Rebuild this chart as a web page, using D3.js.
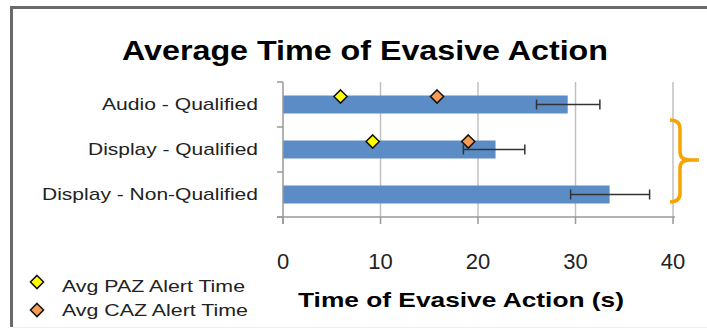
<!DOCTYPE html>
<meta charset="utf-8">
<script src="https://d3js.org/d3.v7.min.js"></script>
<style>
  body { margin: 0; background: #fff; }
  svg { font-family: Arial, "Liberation Sans", sans-serif; }
</style>
<div id="my_dataviz"></div>
<script>

// data
var categories = ["Audio - Qualified", "Display - Qualified", "Display - Non-Qualified"];
var avgEvasive = [29.2, 21.8, 33.5];
var errLow = [26.0, 18.5, 29.5];
var errHigh = [32.5, 24.8, 37.6];
var pazTime = [5.9, 9.2, null];
var cazTime = [15.8, 19.0, null];
var xTicks = [0, 10, 20, 30, 40];

var W = 707, H = 328;
var svg = d3.select("#my_dataviz")
  .append("svg")
    .attr("width", W)
    .attr("height", H);

// the original image is slightly stretched, so squeeze/stretch text to the widths seen
function fit(sel, w) {
  sel.attr("textLength", w).attr("lengthAdjust", "spacingAndGlyphs");
}

// frame
svg.append("path")
  .attr("d", "M11.5,327 L11.5,7.5 L707,7.5")
  .attr("fill", "none")
  .attr("stroke", "#6a6a6a")
  .attr("stroke-width", 3);
svg.append("line")
  .attr("x1", 12).attr("x2", 707).attr("y1", 327.5).attr("y2", 327.5)
  .attr("stroke", "#eee");

// title
svg.append("text")
  .attr("x", 365).attr("y", 60)
  .attr("text-anchor", "middle")
  .style("font-size", "28px")
  .style("font-weight", "bold")
  .text("Average Time of Evasive Action")
  .call(fit, 486);

var plotL = 283, plotR = 673, plotT = 82, plotB = 217;

var x = d3.scaleLinear().domain([0, 40]).range([plotL, plotR]);
var y = d3.scaleBand().domain(categories).range([plotT, plotB]).paddingInner(0.6).paddingOuter(0.3);

// gridlines
svg.append("g")
  .selectAll("line")
  .data(xTicks.slice(1))
  .enter()
  .append("line")
    .attr("x1", d => x(d)).attr("x2", d => x(d))
    .attr("y1", plotT).attr("y2", plotB)
    .attr("stroke", "#c0c0c0")
    .attr("stroke-width", 1.5);

// bars
svg.append("g")
  .selectAll("rect")
  .data(categories)
  .enter()
  .append("rect")
    .attr("x", x(0))
    .attr("y", d => y(d))
    .attr("width", (d, i) => x(avgEvasive[i]) - x(0))
    .attr("height", y.bandwidth())
    .attr("fill", "#5b8cc6");

// error bars
var eb = svg.append("g")
  .selectAll("g")
  .data(categories)
  .enter()
  .append("g")
    .attr("stroke", "#333")
    .attr("stroke-width", 1.5);
eb.append("line")
  .attr("x1", (d, i) => x(errLow[i])).attr("x2", (d, i) => x(errHigh[i]))
  .attr("y1", d => y(d) + y.bandwidth() / 2).attr("y2", d => y(d) + y.bandwidth() / 2);
eb.append("line")
  .attr("x1", (d, i) => x(errLow[i])).attr("x2", (d, i) => x(errLow[i]))
  .attr("y1", d => y(d) + y.bandwidth() / 2 - 5).attr("y2", d => y(d) + y.bandwidth() / 2 + 5);
eb.append("line")
  .attr("x1", (d, i) => x(errHigh[i])).attr("x2", (d, i) => x(errHigh[i]))
  .attr("y1", d => y(d) + y.bandwidth() / 2 - 5).attr("y2", d => y(d) + y.bandwidth() / 2 + 5);

// axes
var yAxis = svg.append("g")
  .attr("transform", "translate(" + plotL + ",0)");
yAxis.append("line")
  .attr("x1", 0).attr("x2", 0).attr("y1", plotT).attr("y2", plotB + 7)
  .attr("stroke", "#999").attr("stroke-width", 1.5);
var yStep = (plotB - plotT) / categories.length;
yAxis.selectAll(".tk")
  .data(d3.range(categories.length + 1))
  .enter()
  .append("line")
    .attr("x1", -6).attr("x2", 0)
    .attr("y1", d => plotT + d * yStep).attr("y2", d => plotT + d * yStep)
    .attr("stroke", "#999").attr("stroke-width", 1.5);
var labelWidths = [156, 170, 216];
yAxis.selectAll(".lbl")
  .data(categories)
  .enter()
  .append("text")
    .attr("x", -25)
    .attr("y", d => y(d) + y.bandwidth() / 2)
    .attr("dy", "0.35em")
    .attr("text-anchor", "end")
    .style("font-size", "17px")
    .attr("fill", "#222")
    .text(d => d)
    .attr("textLength", (d, i) => labelWidths[i])
    .attr("lengthAdjust", "spacingAndGlyphs");

var xAxis = svg.append("g");
xAxis.append("line")
  .attr("x1", plotL - 6).attr("x2", plotR + 2).attr("y1", plotB).attr("y2", plotB)
  .attr("stroke", "#999").attr("stroke-width", 1.5);
xAxis.selectAll(".tk")
  .data(xTicks)
  .enter()
  .append("line")
    .attr("x1", d => x(d)).attr("x2", d => x(d))
    .attr("y1", plotB).attr("y2", plotB + 7)
    .attr("stroke", "#999").attr("stroke-width", 1.5);
xAxis.selectAll("text")
  .data(xTicks)
  .enter()
  .append("text")
    .attr("x", d => x(d))
    .attr("y", 269)
    .attr("text-anchor", "middle")
    .style("font-size", "22px")
    .attr("fill", "#222")
    .text(d => d);

svg.append("text")
  .attr("x", 461).attr("y", 307)
  .attr("text-anchor", "middle")
  .style("font-size", "21px")
  .style("font-weight", "bold")
  .text("Time of Evasive Action (s)")
  .call(fit, 326);

// diamonds
var diamond = d3.symbol().type(d3.symbolDiamond2).size(110);
function drawMarkers(vals, color) {
  svg.append("g")
    .selectAll("path")
    .data(categories.filter((d, i) => vals[i] != null))
    .enter()
    .append("path")
      .attr("d", diamond)
      .attr("transform", d => "translate(" + x(vals[categories.indexOf(d)]) + "," + (y(d) + 1) + ")")
      .attr("fill", color)
      .attr("stroke", "#111")
      .attr("stroke-width", 1.5);
}
drawMarkers(pazTime, "#ffff00");
drawMarkers(cazTime, "#f59d56");

// orange brace
svg.append("path")
  .attr("d", "M670,120 Q680,120 680,129 L680,152 Q680,160 690,160 L699,160 M690,160 Q680,160 680,168 L680,193 Q680,202 670,202")
  .attr("fill", "none")
  .attr("stroke", "#f7a400")
  .attr("stroke-width", 3.5);

// legend
var legendItems = [
  {label: "Avg PAZ Alert Time", color: "#ffff00"},
  {label: "Avg CAZ Alert Time", color: "#f59d56"}
];
var legendWidths = [183, 186];
var lg = svg.append("g")
  .selectAll("g")
  .data(legendItems)
  .enter()
  .append("g");
lg.append("path")
  .attr("d", diamond)
  .attr("transform", (d, i) => "translate(37," + (282 + i * 28) + ")")
  .attr("fill", d => d.color)
  .attr("stroke", "#111")
  .attr("stroke-width", 1.5);
lg.append("text")
  .attr("x", 62)
  .attr("y", (d, i) => 292 + i * 24)
  .style("font-size", "17px")
  .attr("fill", "#222")
  .text(d => d.label)
  .attr("textLength", (d, i) => legendWidths[i])
  .attr("lengthAdjust", "spacingAndGlyphs");

</script>
